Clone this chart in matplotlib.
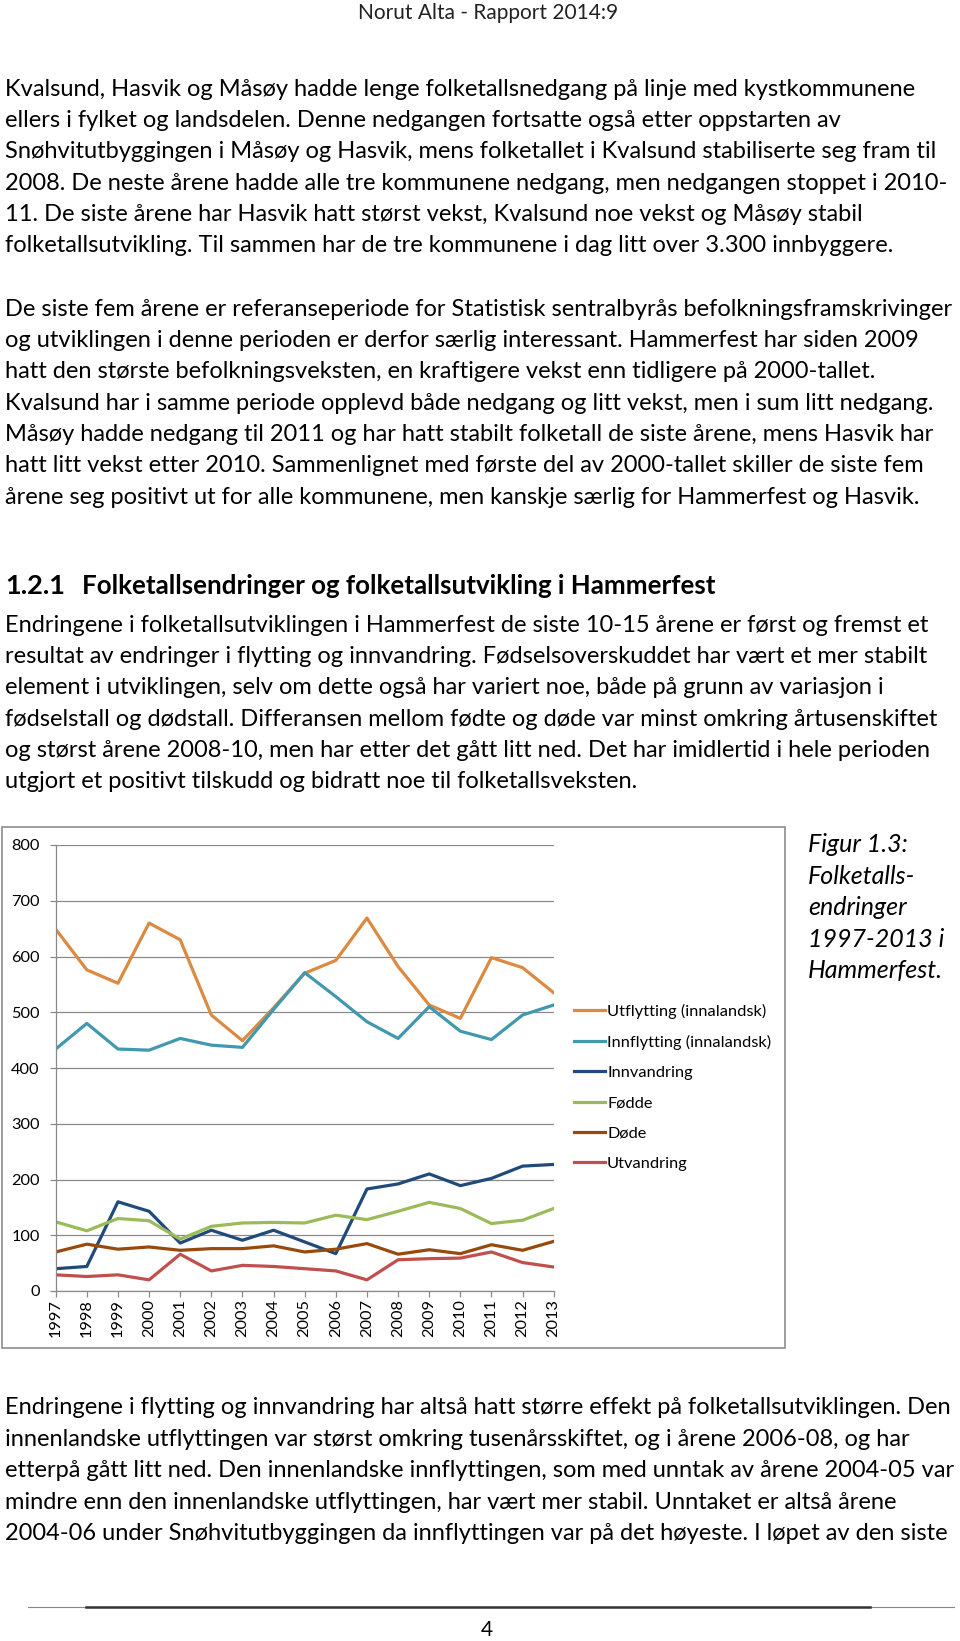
import matplotlib
matplotlib.use("Agg")
import matplotlib.pyplot as plt
from matplotlib.patches import Rectangle
from matplotlib.lines import Line2D

plt.rcParams['font.family'] = ['Lato', 'DejaVu Sans']

years = [str(y) for y in range(1997, 2014)]
utflytting = [649, 576, 552, 660, 630, 495, 449, 508, 570, 593, 669, 582, 513, 489, 598, 580, 535]
innflytting = [434, 480, 434, 432, 453, 441, 437, 505, 571, 528, 483, 453, 510, 466, 451, 495, 513]
innvandring = [40, 44, 160, 143, 86, 109, 91, 109, 88, 67, 183, 192, 210, 189, 202, 224, 227]
fodde = [124, 108, 130, 126, 93, 116, 122, 123, 122, 136, 128, 143, 159, 148, 121, 127, 148]
dode = [70, 84, 75, 79, 73, 76, 76, 81, 70, 75, 85, 66, 74, 67, 83, 73, 89]
utvandring = [29, 26, 29, 20, 66, 36, 46, 44, 40, 36, 20, 56, 58, 59, 70, 51, 43]

series_names = ["Utflytting (innalandsk)", "Innflytting (innalandsk)", "Innvandring",
                "Fødde", "Døde", "Utvandring"]
colors = ["#DB8A42", "#4198AF", "#1F4A7A", "#9BBB59", "#974A0E", "#C0504D"]

header = "Norut Alta - Rapport 2014:9"
para1 = ["Kvalsund, Hasvik og Måsøy hadde lenge folketallsnedgang på linje med kystkommunene",
         "ellers i fylket og landsdelen. Denne nedgangen fortsatte også etter oppstarten av",
         "Snøhvitutbyggingen i Måsøy og Hasvik, mens folketallet i Kvalsund stabiliserte seg fram til",
         "2008. De neste årene hadde alle tre kommunene nedgang, men nedgangen stoppet i 2010-",
         "11. De siste årene har Hasvik hatt størst vekst, Kvalsund noe vekst og Måsøy stabil",
         "folketallsutvikling. Til sammen har de tre kommunene i dag litt over 3.300 innbyggere."]
para2 = ["De siste fem årene er referanseperiode for Statistisk sentralbyrås befolkningsframskrivinger",
         "og utviklingen i denne perioden er derfor særlig interessant. Hammerfest har siden 2009",
         "hatt den største befolkningsveksten, en kraftigere vekst enn tidligere på 2000-tallet.",
         "Kvalsund har i samme periode opplevd både nedgang og litt vekst, men i sum litt nedgang.",
         "Måsøy hadde nedgang til 2011 og har hatt stabilt folketall de siste årene, mens Hasvik har",
         "hatt litt vekst etter 2010. Sammenlignet med første del av 2000-tallet skiller de siste fem",
         "årene seg positivt ut for alle kommunene, men kanskje særlig for Hammerfest og Hasvik."]
heading_num = "1.2.1"
heading = "Folketallsendringer og folketallsutvikling i Hammerfest"
para3 = ["Endringene i folketallsutviklingen i Hammerfest de siste 10-15 årene er først og fremst et",
         "resultat av endringer i flytting og innvandring. Fødselsoverskuddet har vært et mer stabilt",
         "element i utviklingen, selv om dette også har variert noe, både på grunn av variasjon i",
         "fødselstall og dødstall. Differansen mellom fødte og døde var minst omkring årtusenskiftet",
         "og størst årene 2008-10, men har etter det gått litt ned. Det har imidlertid i hele perioden",
         "utgjort et positivt tilskudd og bidratt noe til folketallsveksten."]
caption = ["Figur 1.3:", "Folketalls-", "endringer", "1997-2013 i", "Hammerfest."]
para4 = ["Endringene i flytting og innvandring har altså hatt større effekt på folketallsutviklingen. Den",
         "innenlandske utflyttingen var størst omkring tusenårsskiftet, og i årene 2006-08, og har",
         "etterpå gått litt ned. Den innenlandske innflyttingen, som med unntak av årene 2004-05 var",
         "mindre enn den innenlandske utflyttingen, har vært mer stabil. Unntaket er altså årene",
         "2004-06 under Snøhvitutbyggingen da innflyttingen var på det høyeste. I løpet av den siste"]

W, H = 960, 1641
fig = plt.figure(figsize=(W / 100, H / 100), dpi=100)


def fy(y):
    # pixel row from top -> figure fraction
    return 1 - y / H


fig.text(488 / W, fy(13), header, ha='center', va='center', fontsize=15, color='#222222')


def write_lines(lines, y0, size=17, step=31.4, x=5):
    for i, line in enumerate(lines):
        fig.text(x / W, fy(y0 + i * step), line, ha='left', va='center',
                 fontsize=size, color='black')


write_lines(para1, 89, size=17)
write_lines(para2, 309)
fig.text(5 / W, fy(586), heading_num, ha='left', va='center', fontsize=19.5, fontweight='bold')
fig.text(82 / W, fy(586), heading, ha='left', va='center', fontsize=18.6, fontweight='bold')
write_lines(para3, 625)
write_lines(para4, 1408)

# caption next to chart
for i, line in enumerate(caption):
    fig.text(808 / W, fy(845 + i * 31.4), line, ha='left', va='center',
             fontsize=18, style='italic')

# chart frame
fig.add_artist(Rectangle((2 / W, fy(1348)), 783 / W, 521 / H, transform=fig.transFigure,
                         fill=False, edgecolor='#8c8c8c', linewidth=1.2))

# footer
fig.add_artist(Line2D([28 / W, 954 / W], [fy(1607), fy(1607)], color='#888888', lw=0.8))
fig.add_artist(Line2D([86 / W, 870 / W], [fy(1607), fy(1607)], color='#333333', lw=1.8))
fig.text(487 / W, fy(1630), "4", ha='center', va='center', fontsize=15)

# the chart
ax = fig.add_axes([55.7 / W, fy(1291), 498 / W, 446 / H])
data = [utflytting, innflytting, innvandring, fodde, dode, utvandring]
x = list(range(len(years)))
for vals, name, c in zip(data, series_names, colors):
    ax.plot(x, vals, color=c, lw=2.3, label=name, solid_joinstyle='round')

ax.set_xlim(0, len(years) - 1)
ax.set_ylim(0, 800)
ax.set_yticks(range(0, 801, 100))
ax.set_xticks(x)
ax.set_xticklabels(years, rotation=90)
ax.grid(axis='y', color='#8a8a8a', lw=0.9)
ax.set_axisbelow(True)
for s in ['top', 'right']:
    ax.spines[s].set_visible(False)
for s in ['left', 'bottom']:
    ax.spines[s].set_color('#8a8a8a')
    ax.spines[s].set_linewidth(0.9)
ax.tick_params(axis='both', colors='#8a8a8a', labelcolor='black', labelsize=11.8, length=4, width=0.9)
ax.tick_params(axis='y', pad=7.5)
ax.tick_params(axis='x', pad=2)

ax.legend(loc='upper left', bbox_to_anchor=(574 / W, fy(1004)), bbox_transform=fig.transFigure,
          frameon=False, fontsize=11.8, handlelength=1.9, handletextpad=0.12, borderpad=0,
          borderaxespad=0, labelspacing=0.96)

fig.savefig("out.png", dpi=100)
